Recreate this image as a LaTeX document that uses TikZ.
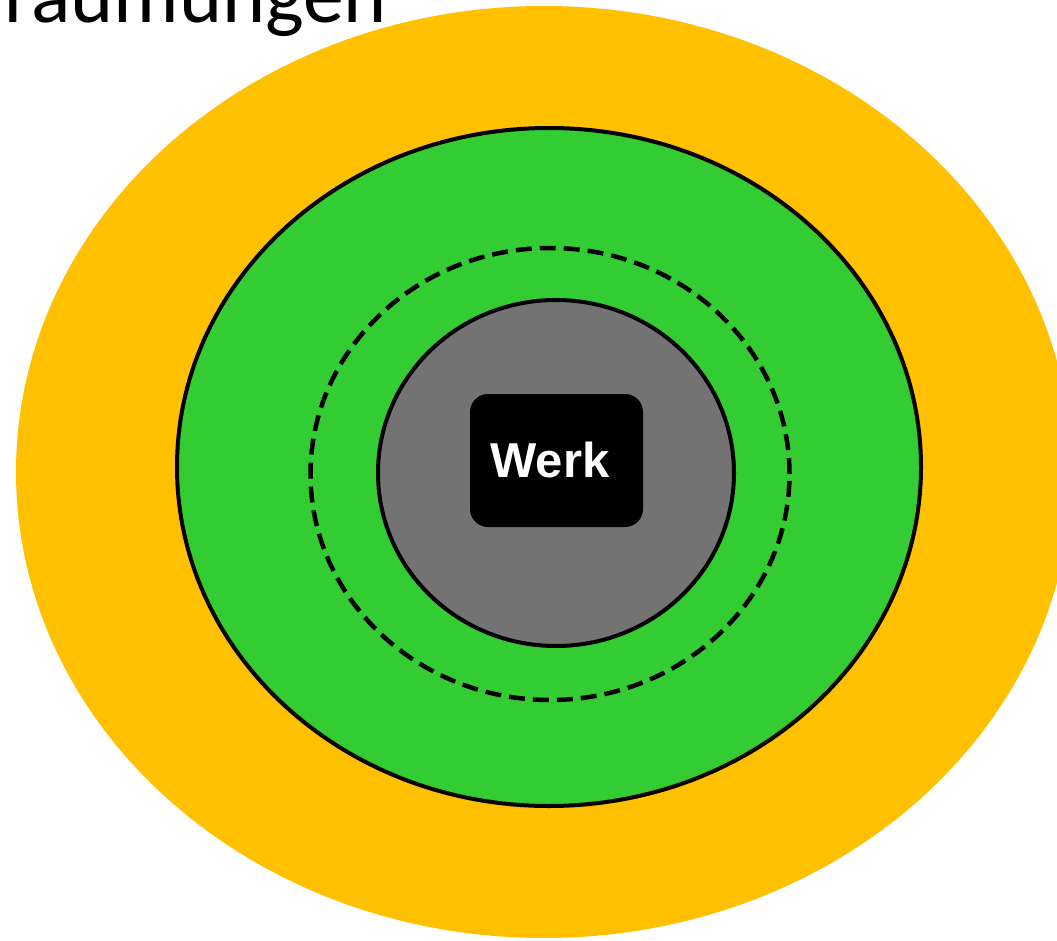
\documentclass[tikz,border=0pt]{standalone}
\usepackage{fontspec}
\setmainfont{Carlito}
\newfontfamily\werkfont{Liberation Sans}
\usetikzlibrary{shapes.geometric, positioning}
\definecolor{outerring}{RGB}{255, 192, 0}
\definecolor{innerring}{RGB}{51, 204, 51}
\definecolor{core}{RGB}{115, 115, 115}
\definecolor{dark}{RGB}{0, 0, 0}
\tikzset{
    zone/.style={ellipse, inner sep=0pt, line width=4pt},
    border/.style={zone, dashed, dash pattern=on 16pt off 8pt, line width=4.5pt, draw=dark},
    plant/.style={rectangle, rounded corners=18pt, fill=dark, text=white, font=\werkfont\fontsize{49}{56}\selectfont\bfseries, minimum width=173pt, minimum height=133pt, inner sep=0pt}
}

\begin{document}
\begin{tikzpicture}[x=1pt, y=-1pt]
        \useasboundingbox (0,0) rectangle (1057,941);
        \clip (0,0) rectangle (1057,941);
        \node[anchor=base west, inner sep=0pt, font=\fontsize{82}{96}\selectfont] (title) at (4,23) {räumungen};

        \node[zone, fill=outerring, minimum width=1056pt, minimum height=932pt] (outer) at (544,472) {};
        \node[zone, fill=innerring, draw=dark, minimum width=744pt, minimum height=678pt] (green) at (549,467) {};
        \node[border, minimum width=479pt, minimum height=452pt] (limit) at (550,474) {};
        \node[zone, fill=core, draw=dark, minimum width=356pt, minimum height=346pt] (gray) at (556,473) {};
        \node[plant] (werk) at (556.5,460.5) {};
        \node[text=white, font=\werkfont\fontsize{49}{56}\selectfont\bfseries, inner sep=0pt, anchor=base] (werklabel) at (550,477) {Werk};
    \end{tikzpicture}
\end{document}
